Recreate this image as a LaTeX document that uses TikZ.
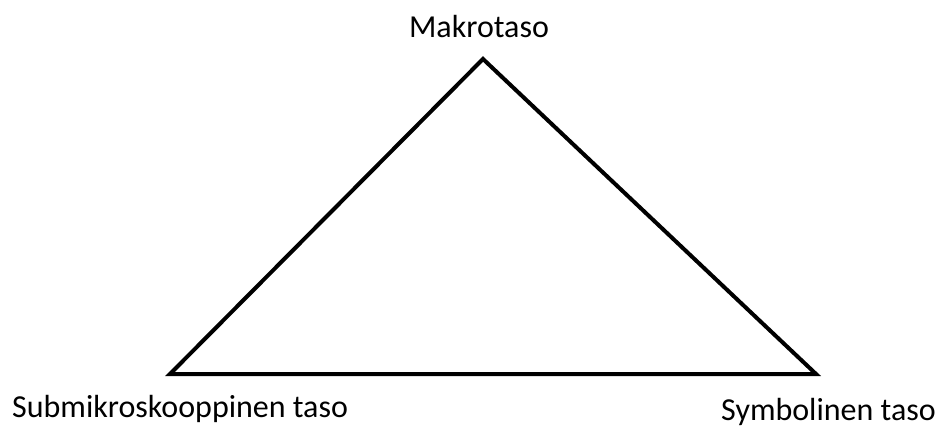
\documentclass[tikz,border=0pt]{standalone}
\usepackage{fontspec}
\setmainfont{Carlito}
\begin{document}
\begin{tikzpicture}[x=1pt,y=-1pt,
  lbl/.style={inner sep=0pt,font=\fontsize{32}{38}\selectfont},
  edge/.style={line width=4pt,line join=miter}]
\useasboundingbox (0,0) rectangle (937,428);
\coordinate (top) at (483,59);
\coordinate (bl) at (170,374);
\coordinate (br) at (816,374);
\draw[edge] (top) -- (br) -- (bl) -- cycle;
\node[lbl,anchor=base] (makro) at (479,38) {Makrotaso};
\node[lbl,anchor=base west] (sub) at (12,417) {Submikroskooppinen taso};
\node[lbl,anchor=base west] (sym) at (721,420) {Symbolinen taso};
\end{tikzpicture}
\end{document}
